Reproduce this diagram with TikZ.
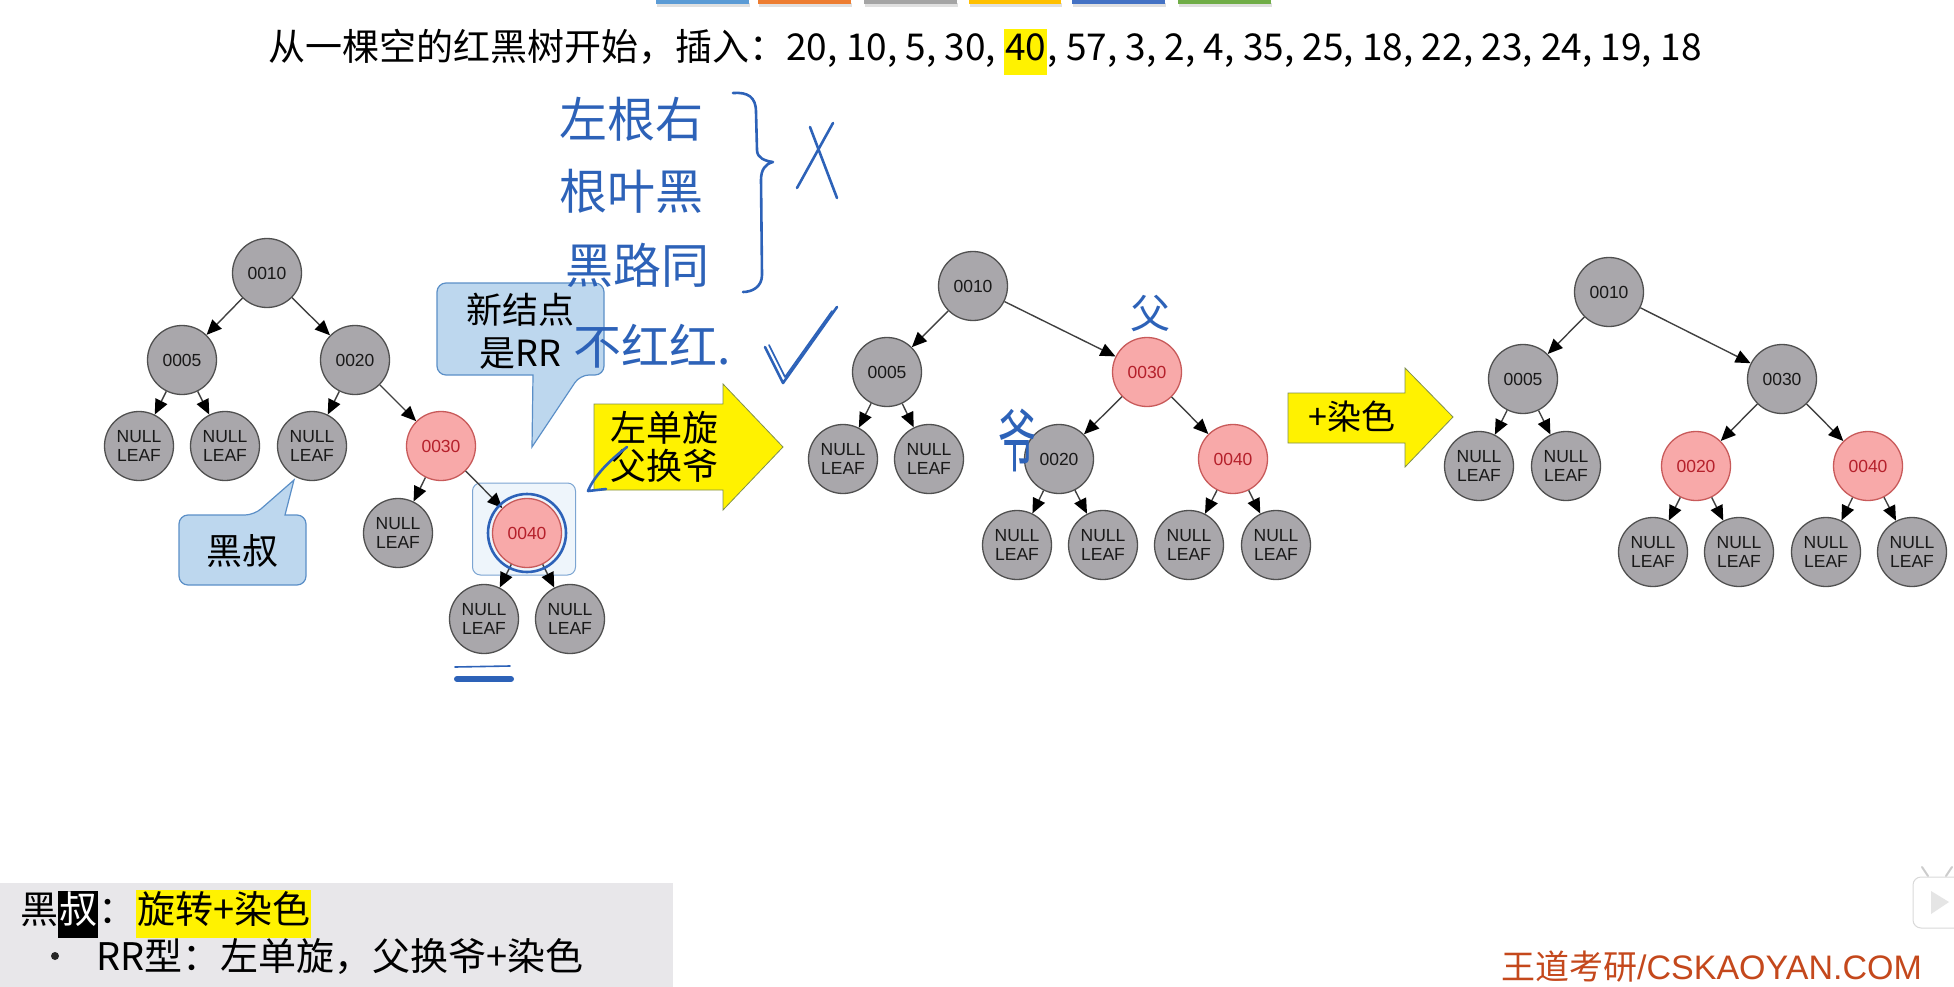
\documentclass[tikz,border=0pt]{standalone}
\usepackage{fontspec}
\setmainfont{Liberation Sans}
\newfontfamily\cjk{Noto Sans CJK SC}
\usetikzlibrary{arrows.meta, positioning}

\definecolor{nodegray}{HTML}{A9A7AB}
\definecolor{nodeline}{HTML}{505050}
\definecolor{redfill}{HTML}{F8A9A9}
\definecolor{redline}{HTML}{C85A5A}
\definecolor{redtext}{HTML}{B5202B}
\definecolor{callfill}{HTML}{BDD7EE}
\definecolor{callline}{HTML}{5B8FC7}
\definecolor{penblue}{HTML}{2D62B8}
\definecolor{arrowline}{HTML}{7F8F4F}
\definecolor{panel}{HTML}{E8E7EA}
\definecolor{brand}{HTML}{C4481C}

\newcommand\hlbox[1]{{\setlength{\fboxsep}{1pt}\colorbox{yellow}{\strut#1}}}

\tikzset{
  blknode/.style={circle, draw=nodeline, line width=1.3pt, fill=nodegray, minimum size=69pt,
    inner sep=0pt, text=black!90, font=\fontsize{17.5}{19}\selectfont},
  rednode/.style={blknode, draw=redline, fill=redfill, text=redtext},
  leaf/.style={blknode, align=center},
  link/.style={draw=black!75, line width=1.4pt, -{Triangle[length=15pt,width=13pt,black]}},
  callout/.style={fill=callfill, draw=callline, line width=1.2pt},
  ink/.style={draw=penblue, line width=2.6pt, line cap=round, line join=round},
  handtxt/.style={text=penblue, font=\cjk\fontsize{48}{52}\selectfont},
  bigarrow/.style={fill=yellow, draw=arrowline, line width=0.8pt},
  cn/.style={font=\cjk\fontsize{#1}{#1}\selectfont}
}

\begin{document}
\begin{tikzpicture}[x=1pt, y=-1pt]

    \useasboundingbox (0,0) rectangle (1954,987);

    % Top bars
    \foreach \xa/\xb/\col in {656/749/5B9BD5, 758/851/ED7D31, 864/957/A5A5A5,
                              969/1061/FFC000, 1072/1165/4472C4, 1178/1271/70AD47} {
        \fill[black!12] (\xa+1,3) rectangle (\xb+1,7);
        \definecolor{barcol}{HTML}{\col}
        \fill[barcol] (\xa,0) rectangle (\xb,4);
    }

    % Title
    \node[font=\cjk\fontsize{37}{44}\selectfont] (title) at (985,52) {从一棵空的红黑树开始，插入：20, 10, 5, 30, \hlbox{40}, 57, 3, 2, 4, 35, 25, 18, 22, 23, 24, 19, 18};

    % Callouts
    \draw[callout] (254,515) -- (294,480) -- (285,515) [rounded corners=9pt] -- (306,515) -- (306,585) -- (179,585) -- (179,515) -- cycle;
    \node[cn=36] (uncle) at (242,551) {黑叔};
    \draw[callout] (580,375) -- (532,447) -- (533,375) [rounded corners=9pt] -- (437,375) -- (437,283) -- (604,283) -- (604,375) -- cycle;
    \node[align=center, font=\cjk\fontsize{36}{43}\selectfont] (newrr) at (520,331) {新结点\\是RR};
    \node[draw=callline!80, fill=callfill!25, line width=1pt, rounded corners=8pt, minimum width=103pt, minimum height=92pt] (a40box) at (524,529) {};

    % Nodes: first tree
    \node[blknode] (a10) at (267,273) {0010};
    \node[blknode] (a5) at (182,360) {0005};
    \node[blknode] (a20) at (355,360) {0020};
    \node[leaf] (a5l) at (139,446) {NULL\\LEAF};
    \node[leaf] (a5r) at (225,446) {NULL\\LEAF};
    \node[leaf] (a20l) at (312,446) {NULL\\LEAF};
    \node[rednode] (a30) at (441,446) {0030};
    \node[leaf] (a30l) at (398,533) {NULL\\LEAF};
    \node[rednode] (a40) at (527,533) {0040};
    \node[leaf] (a40l) at (484,619) {NULL\\LEAF};
    \node[leaf] (a40r) at (570,619) {NULL\\LEAF};

    % Nodes: second tree
    \node[blknode] (b10) at (973,286) {0010};
    \node[blknode] (b5) at (887,372) {0005};
    \node[rednode] (b30) at (1147,372) {0030};
    \node[leaf] (b5l) at (843,459) {NULL\\LEAF};
    \node[leaf] (b5r) at (929,459) {NULL\\LEAF};
    \node[blknode] (b20) at (1059,459) {0020};
    \node[rednode] (b40) at (1233,459) {0040};
    \node[leaf] (b20l) at (1017,545) {NULL\\LEAF};
    \node[leaf] (b20r) at (1103,545) {NULL\\LEAF};
    \node[leaf] (b40l) at (1189,545) {NULL\\LEAF};
    \node[leaf] (b40r) at (1276,545) {NULL\\LEAF};

    % Nodes: third tree
    \node[blknode] (c10) at (1609,292) {0010};
    \node[blknode] (c5) at (1523,379) {0005};
    \node[blknode] (c30) at (1782,379) {0030};
    \node[leaf] (c5l) at (1479,466) {NULL\\LEAF};
    \node[leaf] (c5r) at (1566,466) {NULL\\LEAF};
    \node[rednode] (c20) at (1696,466) {0020};
    \node[rednode] (c40) at (1868,466) {0040};
    \node[leaf] (c20l) at (1653,552) {NULL\\LEAF};
    \node[leaf] (c20r) at (1739,552) {NULL\\LEAF};
    \node[leaf] (c40l) at (1826,552) {NULL\\LEAF};
    \node[leaf] (c40r) at (1912,552) {NULL\\LEAF};

    % Arrows
    \draw[link] (a10) -- (a5);
    \draw[link] (a10) -- (a20);
    \draw[link] (a5) -- (a5l);
    \draw[link] (a5) -- (a5r);
    \draw[link] (a20) -- (a20l);
    \draw[link] (a20) -- (a30);
    \draw[link] (a30) -- (a30l);
    \draw[link] (a30) -- (a40);
    \draw[link] (a40) -- (a40l);
    \draw[link] (a40) -- (a40r);

    \draw[link] (b10) -- (b5);
    \draw[link] (b10) -- (b30);
    \draw[link] (b5) -- (b5l);
    \draw[link] (b5) -- (b5r);
    \draw[link] (b30) -- (b20);
    \draw[link] (b30) -- (b40);
    \draw[link] (b20) -- (b20l);
    \draw[link] (b20) -- (b20r);
    \draw[link] (b40) -- (b40l);
    \draw[link] (b40) -- (b40r);

    \draw[link] (c10) -- (c5);
    \draw[link] (c10) -- (c30);
    \draw[link] (c5) -- (c5l);
    \draw[link] (c5) -- (c5r);
    \draw[link] (c30) -- (c20);
    \draw[link] (c30) -- (c40);
    \draw[link] (c20) -- (c20l);
    \draw[link] (c20) -- (c20r);
    \draw[link] (c40) -- (c40l);
    \draw[link] (c40) -- (c40r);

    % Yellow arrows
    \draw[bigarrow] (594,404) -- (723,404) -- (723,384) -- (783,447) -- (723,510) -- (723,490) -- (594,490) -- cycle;
    \node[align=center, font=\cjk\fontsize{36}{38}\selectfont] (rot) at (664,447) {左单旋\\父换爷};
    \draw[bigarrow] (1288,393) -- (1405,393) -- (1405,368) -- (1453,417) -- (1405,467) -- (1405,443) -- (1288,443) -- cycle;
    \node[cn=34] (recolor) at (1352,417) {+染色};

    % Handwriting
    \node[handtxt, anchor=west] (rule1) at (556,119) {左根右};
    \node[handtxt, anchor=west] (rule2) at (556,191) {根叶黑};
    \node[handtxt, anchor=west] (rule3) at (562,265) {黑路同};
    \node[handtxt, anchor=west] (rule4) at (570,346) {不红红.};
    \draw[ink] (733,93) .. controls (748,92) and (756,97) .. (756,112) -- (757,150)
        .. controls (757,158) and (765,161) .. (773,162)
        .. controls (765,164) and (761,170) .. (761,180) -- (762,275)
        .. controls (762,287) and (752,292) .. (743,292);
    \draw[ink] (810,127) -- (837,198);
    \draw[ink] (833,123) -- (797,188);
    \draw[ink] (765,347) -- (783,383) -- (837,307);
    \draw[ink, line width=1.6pt] (769,345) -- (785,377) -- (832,311);
    \draw[ink] (627,447) .. controls (610,460) and (594,476) .. (588,491) -- (606,489);
    \draw[ink] (a40) circle (39pt);
    \draw[ink, line width=1.6pt] (455,667) -- (510,666);
    \draw[ink, line width=6pt] (457,679) -- (511,679);
    \node[handtxt, font=\cjk\fontsize{40}{40}\selectfont] (fu) at (1150,313) {父};
    \node[handtxt, font=\cjk\fontsize{38}{38}\selectfont] (ye) at (1017,440) {\scalebox{1}[1.8]{爷}};

    % Bottom panel
    \fill[panel] (0,883) rectangle (673,987);
    \node[anchor=west, inner sep=0pt, font=\cjk\fontsize{38}{44}\selectfont] (rule) at (20,914)
        {黑{\setlength{\fboxsep}{1pt}\colorbox{black}{\color{white}\strut 叔}}：\hlbox{旋转+染色}};
    \node[circle, fill=black!85, inner sep=0pt, minimum size=8pt] (dot) at (55,956) {};
    \node[anchor=west, inner sep=0pt, font=\cjk\fontsize{38}{44}\selectfont] (rrcase) at (96,957) {RR型：左单旋，父换爷+染色};

    % Brand and player icon
    \node[anchor=east, inner sep=0pt, text=brand, font=\fontsize{34}{34}\selectfont] (brand) at (1922,967) {{\cjk 王道考研}/CSKAOYAN.COM};
    \draw[black!15, fill=white, rounded corners=8pt, line width=1pt] (1913,877) rectangle (1968,928);
    \fill[black!10] (1931,891) -- (1949,902) -- (1931,914) -- cycle;
    \draw[white!80!black, line width=2pt, line cap=round] (1928,876) -- (1922,867);
    \draw[white!80!black, line width=2pt, line cap=round] (1946,876) -- (1952,867);

\end{tikzpicture}
\end{document}
